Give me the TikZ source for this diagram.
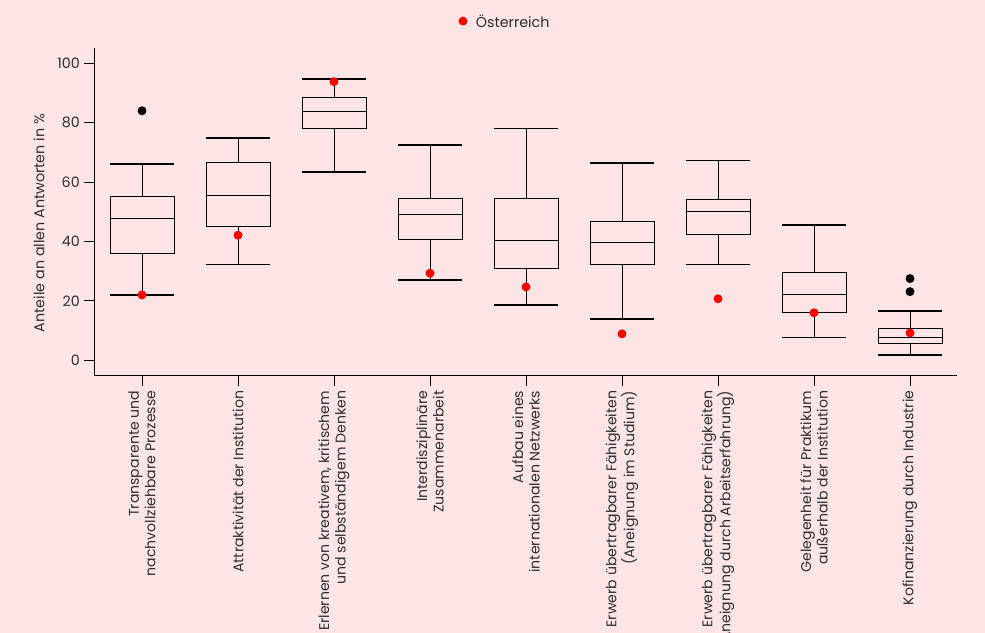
\documentclass[tikz,border=0pt]{standalone}
\usepackage{fontspec}
\setmainfont{Poppins}
\usepackage{xcolor}
\usepackage{tikz}
\usetikzlibrary{positioning}
\definecolor{panelpink}{HTML}{FDE5E6}
\definecolor{inkgray}{HTML}{2E2E2E}
\definecolor{austriared}{HTML}{FF0000}
\tikzset{
  axisline/.style={draw=black,line width=1.4pt},
  boxline/.style={draw=black,line width=1pt},
  capline/.style={draw=black,line width=1.7pt},
  ticklabel/.style={font=\fontsize{14.3}{17}\selectfont,text=inkgray,inner sep=0pt},
  catlabel/.style={font=\fontsize{14.1}{16.5}\selectfont,text=inkgray,rotate=90,anchor=east,align=right,inner sep=0pt},
  austriadot/.style={circle,fill=austriared,inner sep=0pt,minimum size=9pt},
  outlierdot/.style={circle,fill=black,inner sep=0pt,minimum size=9pt},
}

\begin{document}
\begin{tikzpicture}[x=1pt,y=2.97pt]
    \fill[panelpink] (0,-91.8) rectangle (985,121.3);
    \useasboundingbox (0,-91.8) rectangle (985,121.3);
    % axes
    \draw[axisline] (94.3,105.1) -- (94.3,-5.1) -- (957,-5.1);
    \foreach \v in {0,20,...,100} {
      \draw[boxline] (84.3,\v) -- (94.3,\v);
      \node[ticklabel,anchor=east] (tick\v) at (80,\v) {\v};
    }
    \node[ticklabel,rotate=90] (ylab) at (39,46.2) {Anteile an allen Antworten in \%};
    % boxes: centre / whisker low / Q1 / median / Q3 / whisker high / Austria
    \foreach \xc/\wlo/\qlo/\med/\qhi/\whi/\aut [count=\i] in {
        142/22.0/36.0/47.8/55.0/66.1/22.0, 238/32.2/45.0/55.6/66.7/74.9/42.1,
        334/63.4/78.1/83.7/88.4/94.7/93.8, 430/27.0/40.7/49.0/54.3/72.5/29.3,
        526/18.6/30.8/40.4/54.3/78.0/24.7, 622/13.8/32.2/39.5/46.7/66.5/8.9,
        718/32.2/42.4/50.2/54.2/67.3/20.7, 814/7.7/16.0/22.1/29.5/45.6/16.0,
        910/1.8/5.7/7.5/10.6/16.6/9.2} {
      \draw[boxline] (\xc,\wlo) -- (\xc,\qlo) (\xc,\qhi) -- (\xc,\whi);
      \draw[boxline] (\xc-32,\qlo) rectangle (\xc+32,\qhi);
      \draw[boxline] (\xc-32,\med) -- (\xc+32,\med);
      \draw[capline] (\xc-32,\wlo) -- (\xc+32,\wlo) (\xc-32,\whi) -- (\xc+32,\whi);
      \draw[boxline] (\xc,-5.1) -- (\xc,-8.5);
      \node[austriadot] (aut\i) at (\xc,\aut) {};
    }
    \node[outlierdot] (out1) at (142,84.0) {};
    \node[outlierdot] (out9a) at (910,27.5) {};
    \node[outlierdot] (out9b) at (910,23.1) {};
    % legend
    \node[austriadot] (legdot) at (463,114.2) {};
    \node[ticklabel,right=8pt of legdot] (legtext) {Österreich};
    % category labels
    \node[catlabel] (cat1) at (142,-10.2) {Transparente und\\nachvollziehbare Prozesse};
    \node[catlabel] (cat2) at (238,-10.2) {Attraktivität der Institution};
    \node[catlabel] (cat3) at (334,-10.2) {Erlernen von kreativem, kritischem\\und selbständigem Denken};
    \node[catlabel] (cat4) at (430,-10.2) {Interdisziplinäre\\Zusammenarbeit};
    \node[catlabel] (cat5) at (526,-10.2) {Aufbau eines\\internationalen Netzwerks};
    \node[catlabel] (cat6) at (622,-10.2) {Erwerb übertragbarer Fähigkeiten\\(Aneignung im Studium)};
    \node[catlabel] (cat7) at (718,-10.2) {Erwerb übertragbarer Fähigkeiten\\(Aneignung durch Arbeitserfahrung)};
    \node[catlabel] (cat8) at (814,-10.2) {Gelegenheit für Praktikum\\außerhalb der Institution};
    \node[catlabel] (cat9) at (910,-10.2) {Kofinanzierung durch Industrie};
  \end{tikzpicture}
\end{document}
